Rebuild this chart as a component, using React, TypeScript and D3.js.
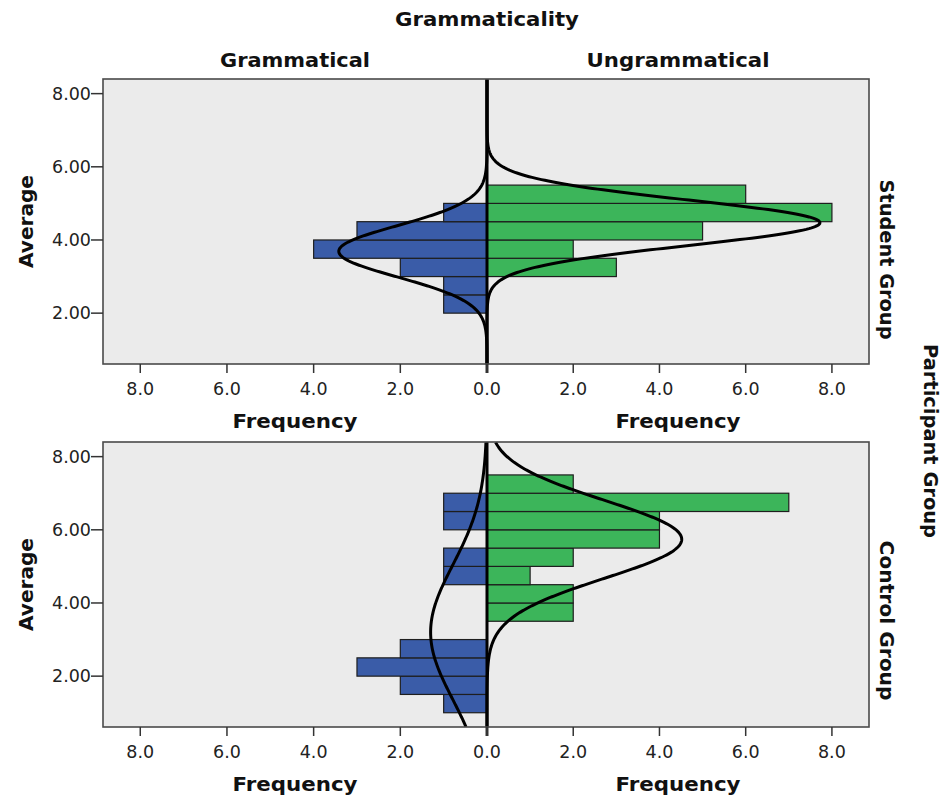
import * as d3 from "d3";

// histogram bins (lower edge), width 0.5
const binStarts = [1.0, 1.5, 2.0, 2.5, 3.0, 3.5, 4.0, 4.5, 5.0, 5.5, 6.0, 6.5, 7.0];
const binWidth = 0.5;

const studentGrammatical = [0, 0, 1, 1, 2, 4, 3, 1, 0, 0, 0, 0, 0];
const studentUngrammatical = [0, 0, 0, 0, 3, 2, 5, 8, 6, 0, 0, 0, 0];
const controlGrammatical = [1, 2, 3, 2, 0, 0, 0, 1, 1, 0, 1, 1, 0];
const controlUngrammatical = [0, 0, 0, 0, 0, 2, 2, 1, 2, 4, 4, 7, 2];

// normal curve fits: [mean, sd, n]
const studentGrammaticalFit = [3.69, 0.7, 12];
const studentUngrammaticalFit = [4.47, 0.62, 24];
const controlGrammaticalFit = [3.2, 1.84, 12];
const controlUngrammaticalFit = [5.74, 1.06, 24];

const panelNames = ["Student Group", "Control Group"];
const sideNames = ["Grammatical", "Ungrammatical"];
const yTicks = [2, 4, 6, 8];
const xTicks = [0, 2, 4, 6, 8];

const W = 945;
const H = 798;
const zero = 487;
const plotL = 103;
const plotR = 869;
const panelTops = [79, 442];
const panelH = 285;

const BLUE = "#3a5ca8";
const GREEN = "#3cb55a";
const FONT = "DejaVu Sans";

const xRight = d3.scaleLinear().domain([0, 8.86]).range([zero, plotR]);
const xLeft = d3.scaleLinear().domain([0, 8.86]).range([zero, plotL]);

const normalCurve = (fit: number[], y0: number, y1: number) => {
  const [mu, sd, n] = fit;
  return d3.range(y0, y1 + 0.01, 0.02).map((v) => ({
    v,
    f: (n * binWidth * Math.exp(-0.5 * ((v - mu) / sd) ** 2)) / (sd * Math.sqrt(2 * Math.PI)),
  }));
};

const Bold = ({ x, y, len, children, transform }: any) => (
  <text x={x} y={y} transform={transform} dy="0.35em" textAnchor="middle" fontFamily={FONT}
    fontWeight="bold" fontSize={19} fill="#111" textLength={len} lengthAdjust="spacingAndGlyphs">
    {children}
  </text>
);

const Panel = ({ idx, left, right, leftFit, rightFit }: any) => {
  const top = panelTops[idx];
  const bottom = top + panelH;
  const y = d3.scaleLinear().domain([0.61, 8.4]).range([bottom, top]);
  const [d0, d1] = y.domain();
  const clipId = `clip${idx}`;
  const lineL = d3.line<{ v: number; f: number }>().x((d) => xLeft(d.f)).y((d) => y(d.v));
  const lineR = d3.line<{ v: number; f: number }>().x((d) => xRight(d.f)).y((d) => y(d.v));
  const midY = (top + bottom) / 2;

  return (
    <g>
      <defs>
        <clipPath id={clipId}>
          <rect x={plotL} y={top} width={plotR - plotL} height={panelH} />
        </clipPath>
      </defs>
      <rect x={plotL} y={top} width={plotR - plotL} height={panelH} fill="#ebebeb" />
      <g clipPath={`url(#${clipId})`}>
        {binStarts.map((b, i) =>
          left[i] > 0 ? (
            <rect key={"l" + i} x={xLeft(left[i])} y={y(b + binWidth)} width={zero - xLeft(left[i])}
              height={y(b) - y(b + binWidth)} fill={BLUE} stroke="#1e1e1e" strokeWidth={1.2} />
          ) : null
        )}
        {binStarts.map((b, i) =>
          right[i] > 0 ? (
            <rect key={"r" + i} x={zero} y={y(b + binWidth)} width={xRight(right[i]) - zero}
              height={y(b) - y(b + binWidth)} fill={GREEN} stroke="#1e1e1e" strokeWidth={1.2} />
          ) : null
        )}
        <line x1={zero} x2={zero} y1={top} y2={bottom} stroke="#000" strokeWidth={3} />
        <path d={lineL(normalCurve(leftFit, d0, d1)) || ""} fill="none" stroke="#000" strokeWidth={3} />
        <path d={lineR(normalCurve(rightFit, d0, d1)) || ""} fill="none" stroke="#000" strokeWidth={3} />
      </g>
      <rect x={plotL} y={top} width={plotR - plotL} height={panelH} fill="none" stroke="#4a4a4a" strokeWidth={1.6} />

      {/* y axis */}
      {yTicks.map((t) => (
        <g key={"y" + t}>
          <line x1={plotL - 12} x2={plotL} y1={y(t)} y2={y(t)} stroke="#333" strokeWidth={1.5} />
          <text x={plotL - 12} y={y(t)} dy="0.35em" textAnchor="end" fontFamily={FONT} fontSize={17.5} fill="#222">
            {t.toFixed(2)}
          </text>
        </g>
      ))}
      <text transform={`translate(33,${midY}) rotate(-90)`} textAnchor="middle" fontFamily={FONT}
        fontWeight="bold" fontSize={19.5} fill="#111" textLength={93} lengthAdjust="spacingAndGlyphs">Average</text>

      {/* x axes */}
      {xTicks.map((t) => (
        <g key={"xl" + t}>
          <line x1={xLeft(t)} x2={xLeft(t)} y1={bottom} y2={bottom + 9} stroke="#333" strokeWidth={t === 0 ? 3 : 1.5} />
          <text x={xLeft(t)} y={bottom + 25} dy="0.35em" textAnchor="middle" fontFamily={FONT} fontSize={17.5} fill="#222">
            {t.toFixed(1)}
          </text>
        </g>
      ))}
      {xTicks.filter((t) => t > 0).map((t) => (
        <g key={"xr" + t}>
          <line x1={xRight(t)} x2={xRight(t)} y1={bottom} y2={bottom + 9} stroke="#333" strokeWidth={1.5} />
          <text x={xRight(t)} y={bottom + 25} dy="0.35em" textAnchor="middle" fontFamily={FONT} fontSize={17.5} fill="#222">
            {t.toFixed(1)}
          </text>
        </g>
      ))}
      <Bold x={(plotL + zero) / 2} y={bottom + 57} len={125}>Frequency</Bold>
      <Bold x={(zero + plotR) / 2} y={bottom + 57} len={125}>Frequency</Bold>

      <text transform={`translate(880,${midY + (idx === 0 ? 38 : 36)}) rotate(90)`} textAnchor="middle" fontFamily={FONT}
        fontWeight="bold" fontSize={19.5} fill="#111" textLength={160} lengthAdjust="spacingAndGlyphs">{panelNames[idx]}</text>
    </g>
  );
};

export default function App() {
  return (
    <svg width={W} height={H} style={{ position: "absolute", left: 0, top: 0, background: "#fff" }}>
      <Bold x={zero} y={19} len={184}>Grammaticality</Bold>
      <Bold x={(plotL + zero) / 2} y={60} len={150}>{sideNames[0]}</Bold>
      <Bold x={(zero + plotR) / 2} y={60} len={183}>{sideNames[1]}</Bold>
      <Panel idx={0} left={studentGrammatical} right={studentUngrammatical}
        leftFit={studentGrammaticalFit} rightFit={studentUngrammaticalFit} />
      <Panel idx={1} left={controlGrammatical} right={controlUngrammatical}
        leftFit={controlGrammaticalFit} rightFit={controlUngrammaticalFit} />
      <text transform={`translate(924,441) rotate(90)`} textAnchor="middle"
        fontFamily={FONT} fontWeight="bold" fontSize={19.5} fill="#111" textLength={194} lengthAdjust="spacingAndGlyphs">Participant Group</text>
    </svg>
  );
}
